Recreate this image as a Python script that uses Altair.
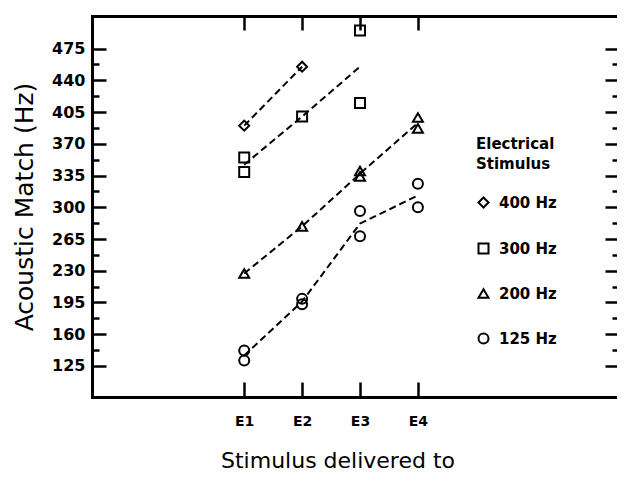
import altair as alt
import pandas as pd

# ---- data ----
electrodes = ["E1", "E2", "E3", "E4"]
stimuli = ["400 Hz", "300 Hz", "200 Hz", "125 Hz"]
shapes = ["diamond", "square", "triangle-up", "circle"]

match_400 = {"E1": [390], "E2": [455]}
match_300 = {"E1": [355, 339], "E2": [400], "E3": [495, 415]}
match_200 = {"E1": [227], "E2": [279], "E3": [340, 334], "E4": [399, 387]}
match_125 = {"E1": [142, 131], "E2": [199, 193], "E3": [296, 268], "E4": [326, 300]}

y_major = [125, 160, 195, 230, 265, 300, 335, 370, 405, 440, 475]
y_minor = [142.5, 177.5, 212.5, 247.5, 282.5, 317.5, 352.5, 387.5, 422.5, 457.5]

series = {"400 Hz": match_400, "300 Hz": match_300, "200 Hz": match_200, "125 Hz": match_125}
rows = []
for stim, d in series.items():
    for e, vals in d.items():
        for v in vals:
            rows.append({"electrode": e, "pos": electrodes.index(e) + 1, "stimulus": stim, "value": v})
df = pd.DataFrame(rows)

FONT = "DejaVu Sans"
xs = alt.Scale(domain=[-1.629, 7.439], nice=False, zero=False)
ys = alt.Scale(domain=[90.8, 510.9], nice=False, zero=False)
label_expr = "[" + ",".join(f"'{e}'" for e in electrodes) + "][datum.value - 1]"
x_vals = [electrodes.index(e) + 1 for e in electrodes]


def tick_axis(orient, values, offset, size):
    return alt.Axis(orient=orient, values=values, offset=offset, tickSize=size,
                    tickWidth=2.5, tickColor="black", domain=False, labels=False,
                    grid=False, title=None)


x_main = alt.Axis(orient="bottom", values=x_vals, labelExpr=label_expr, ticks=False, tickSize=0,
                  domain=True, domainWidth=3, domainColor="black", domainCap="square",
                  labelFont=FONT, labelFontSize=14, labelFontWeight="bold", labelColor="black",
                  labelPadding=17,
                  grid=False, title="Stimulus delivered to", titleFont=FONT, titleFontSize=22,
                  titleFontWeight="normal", titleColor="black", titleX=245.5, titleY=70,
                  titleAlign="center", titleBaseline="alphabetic")
y_main = alt.Axis(orient="left", values=y_major, ticks=False, tickSize=0,
                  domain=True, domainWidth=3, domainColor="black", domainCap="square",
                  labelFont=FONT, labelFontSize=16, labelFontWeight="bold", labelColor="black",
                  labelPadding=7,
                  grid=False, title="Acoustic Match (Hz)", titleFont=FONT, titleFontSize=25,
                  titleFontWeight="normal", titleColor="black", titleAngle=270,
                  titleX=-60, titleY=190.5, titleAlign="center", titleBaseline="alphabetic")
x_top = alt.Axis(orient="top", domain=True, domainWidth=3, domainColor="black", domainCap="square",
                 ticks=False, labels=False, grid=False, title=None)

legend = alt.Legend(orient="none", legendX=384, legendY=121, title=["Electrical", "Stimulus"],
                    titleFont=FONT, titleFontSize=15, titleFontWeight="bold", titleColor="black",
                    titleLineHeight=20, titlePadding=23, labelFont=FONT, labelFontSize=15,
                    labelFontWeight="bold",
                    labelColor="black", labelOffset=8, symbolSize=100, symbolStrokeWidth=2,
                    symbolStrokeColor="black", symbolFillColor="transparent", rowPadding=27,
                    padding=0)

points = alt.Chart(df).mark_point(filled=False, color="black", size=100, strokeWidth=2, opacity=1).encode(
    x=alt.X("pos:Q", scale=xs, axis=x_main),
    y=alt.Y("value:Q", scale=ys, axis=y_main),
    shape=alt.Shape("stimulus:N", scale=alt.Scale(domain=stimuli, range=shapes), legend=legend),
)

lines = alt.Chart(df).mark_line(color="black", strokeWidth=2, strokeDash=[7, 4]).encode(
    x=alt.X("pos:Q", scale=xs, axis=x_top),
    y=alt.Y("mean(value):Q", scale=ys, axis=tick_axis("left", y_major, -14, 14)),
    detail="stimulus:N",
)

dummy3 = alt.Chart(df).mark_point(opacity=0).encode(
    x=alt.X("pos:Q", scale=xs, axis=tick_axis("bottom", x_vals, -15, 15)),
    y=alt.Y("value:Q", scale=ys, axis=tick_axis("left", y_minor, -7, 7)),
)
dummy4 = alt.Chart(df).mark_point(opacity=0).encode(
    x=alt.X("pos:Q", scale=xs, axis=tick_axis("top", x_vals, -14, 14)),
    y=alt.Y("value:Q", scale=ys, axis=tick_axis("right", y_major, -12, 12)),
)
dummy5 = alt.Chart(df).mark_point(opacity=0).encode(
    x=alt.X("pos:Q", scale=xs, axis=None),
    y=alt.Y("value:Q", scale=ys, axis=tick_axis("right", y_minor, -5, 5)),
)

chart = alt.layer(points, lines, dummy3, dummy4, dummy5).resolve_axis(
    x="independent", y="independent"
).properties(
    width=525, height=381,
    padding={"left": 84, "top": 8, "right": 0, "bottom": 76},
    autosize=alt.AutoSizeParams(type="none"),
    background="white",
).configure_view(stroke=None)

chart.save("out.html", embed_options={"renderer": "svg", "actions": False})
